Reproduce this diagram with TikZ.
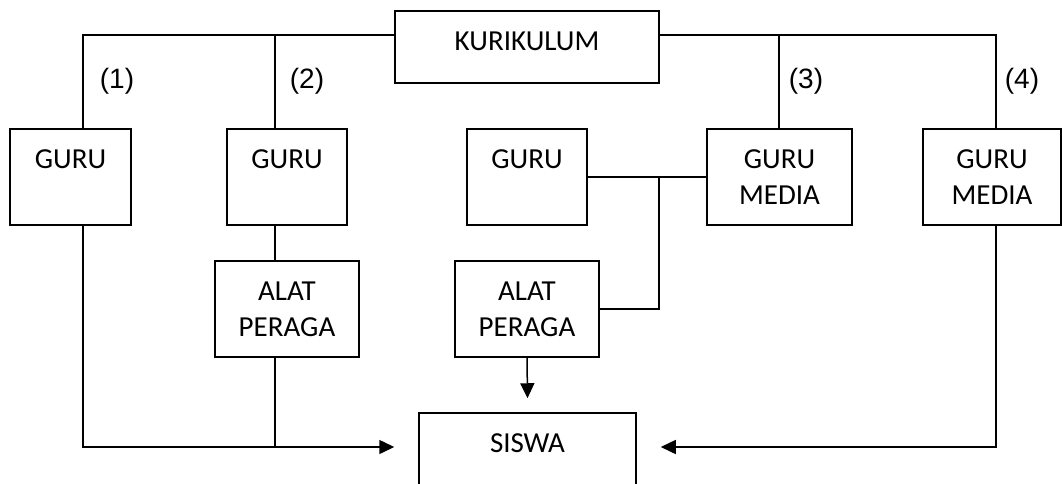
\documentclass[tikz,border=0pt]{standalone}
\usepackage{fontspec}
\setmainfont{Carlito}
\newfontfamily\numfont{Liberation Sans}
\usetikzlibrary{arrows.meta}

\tikzset{
  box/.style={draw, line width=1.5pt, minimum height=96pt, inner sep=0pt,
              label={[boxtext]north:{#1}}},
  boxtext/.style={anchor=north, yshift=-21pt, inner sep=0pt, align=center,
                  font=\fontsize{29}{36}\selectfont},
  num/.style={inner sep=0pt, font=\numfont\fontsize{28}{32}\selectfont},
  wire/.style={line width=1.5pt},
  arrow/.style={wire, -{Triangle[length=15pt,width=14pt]}}
}

\begin{document}
\begin{tikzpicture}[x=1pt,y=-1pt]
  \useasboundingbox (0,0) rectangle (1062,484);
  \clip (0,0) rectangle (1062,484);

  % boxes
  \node[box=KURIKULUM, minimum width=264pt, minimum height=72pt] (kur) at (527,47) {};
  \node[box=GURU, minimum width=121pt] (g1) at (70.5,177) {};
  \node[box=GURU, minimum width=120pt] (g2) at (287,177) {};
  \node[box=GURU, minimum width=120pt] (g3) at (527,177) {};
  \node[box={GURU\\MEDIA}, minimum width=145pt] (gm3) at (779.5,177) {};
  \node[box={GURU\\MEDIA}, minimum width=138pt] (gm4) at (992,177) {};
  \node[box={ALAT\\PERAGA}, minimum width=144pt] (ap1) at (287,309) {};
  \node[box={ALAT\\PERAGA}, minimum width=144pt] (ap2) at (527,309) {};
  \node[box=SISWA, minimum width=217pt] (sis) at (527.5,461) {};

  % branch points
  \coordinate (kL) at ([yshift=12pt]kur.west);
  \coordinate (kR) at ([yshift=12pt]kur.east);
  \coordinate (c1) at (83,35);
  \coordinate (c2) at (275,35);
  \coordinate (c3) at (779,35);
  \coordinate (c4) at (996,35);
  \coordinate (b1) at (83,447);
  \coordinate (j)  at (659,177);
  \coordinate (sL) at ([xshift=-24pt]sis.west |- b1);
  \coordinate (sR) at ([xshift=24pt]sis.east |- b1);

  % curriculum to the four teacher boxes
  \draw[wire] (kL) -- (c1) -- (c1 |- g1.north);
  \draw[wire] (c2) -- (c2 |- g2.north);
  \draw[wire] (kR) -- (c4) -- (c4 |- gm4.north);
  \draw[wire] (c3) -- (c3 |- gm3.north);

  % route labels
  \node[num] (n1) at (117,81) {(1)};
  \node[num] (n2) at (307,81) {(2)};
  \node[num] (n3) at (806,81) {(3)};
  \node[num] (n4) at (1022,81) {(4)};

  % route (2)
  \draw[wire] (c2 |- g2.south) -- (c2 |- ap1.north);
  \draw[wire] (c2 |- ap1.south) -- (c2 |- b1);

  % routes (1) and (2) into SISWA
  \draw[arrow] (c1 |- g1.south) -- (b1) -- (sL);

  % route (3)
  \draw[wire] (g3.east) -- (gm3.west);
  \draw[wire] (j) |- (ap2.east);
  \draw[arrow] (ap2.south) -- ([yshift=14pt]sis.north);

  % route (4)
  \draw[arrow] (c4 |- gm4.south) |- (sR);
\end{tikzpicture}
\end{document}
